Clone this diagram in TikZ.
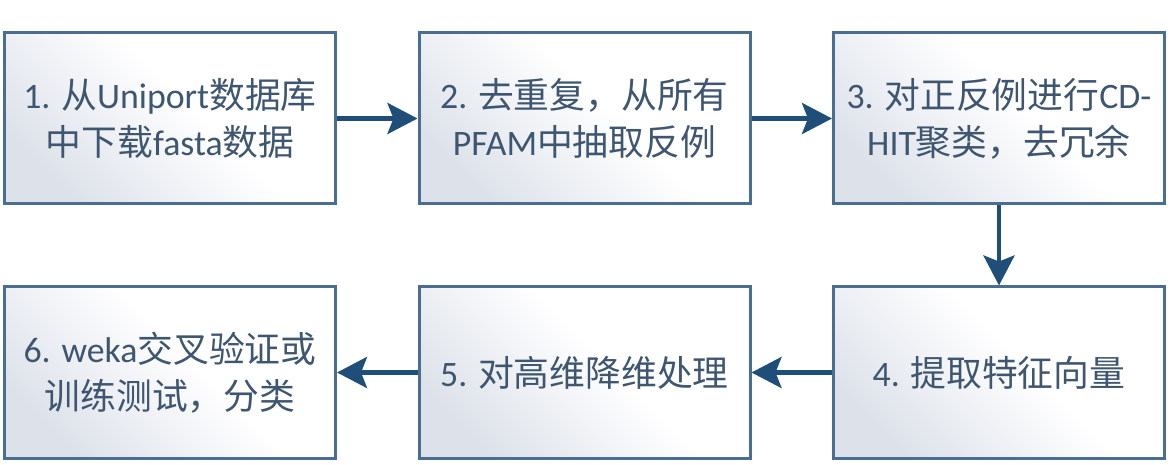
\documentclass[tikz,border=0pt]{standalone}
\usepackage{fontspec}
\setmainfont{Carlito}
\newfontfamily\cjkfont{Noto Sans CJK SC}
\newcommand{\zhtxt}[1]{{\cjkfont #1}}
\usetikzlibrary{arrows.meta}
\definecolor{boxline}{HTML}{4A6D92}
\definecolor{boxtext}{HTML}{3F5671}
\definecolor{arrowc}{HTML}{1F4E79}
\definecolor{shadec}{HTML}{DDE2EA}
\pgfdeclarehorizontalshading{boxshade}{100bp}{color(0bp)=(shadec); color(25bp)=(shadec); color(55bp)=(white); color(100bp)=(white)}
\begin{document}
\begin{tikzpicture}[x=1pt,y=-1pt,
  stepbox/.style={draw=boxline, line width=3pt, rectangle, inner sep=0pt,
    minimum width=331pt, minimum height=171pt,
    shading=boxshade, shading angle=45,
    text=boxtext, align=center,
    font=\fontsize{35.8}{47}\selectfont},
  arr/.style={draw=arrowc, line width=4.5pt,
    -{Stealth[length=30pt,width=31pt,inset=6pt]}}]
\useasboundingbox (0,0) rectangle (1171,465);
\node[stepbox] (b1) at (170,118.5) {1. \zhtxt{从}Uniport\zhtxt{数据库}\\\zhtxt{中下载}fasta\zhtxt{数据}};
\node[stepbox] (b2) at (584.5,118.5) {2. \zhtxt{去重复，从所有}\\PFAM\zhtxt{中抽取反例}};
\node[stepbox] (b3) at (999,118.5) {3. \zhtxt{对正反例进行}CD-\\HIT\zhtxt{聚类，去冗余}};
\node[stepbox] (b4) at (999,372.5) {4. \zhtxt{提取特征向量}};
\node[stepbox] (b5) at (584.5,372.5) {5. \zhtxt{对高维降维处理}};
\node[stepbox] (b6) at (170,372.5) {6. weka\zhtxt{交叉验证或}\\\zhtxt{训练测试，分类}};
\draw[arr] (b1.east) -- (b2.west);
\draw[arr] (b2.east) -- (b3.west);
\draw[arr] (b3.south) -- (b4.north);
\draw[arr] (b4.west) -- (b5.east);
\draw[arr] (b5.west) -- (b6.east);
\end{tikzpicture}
\end{document}
